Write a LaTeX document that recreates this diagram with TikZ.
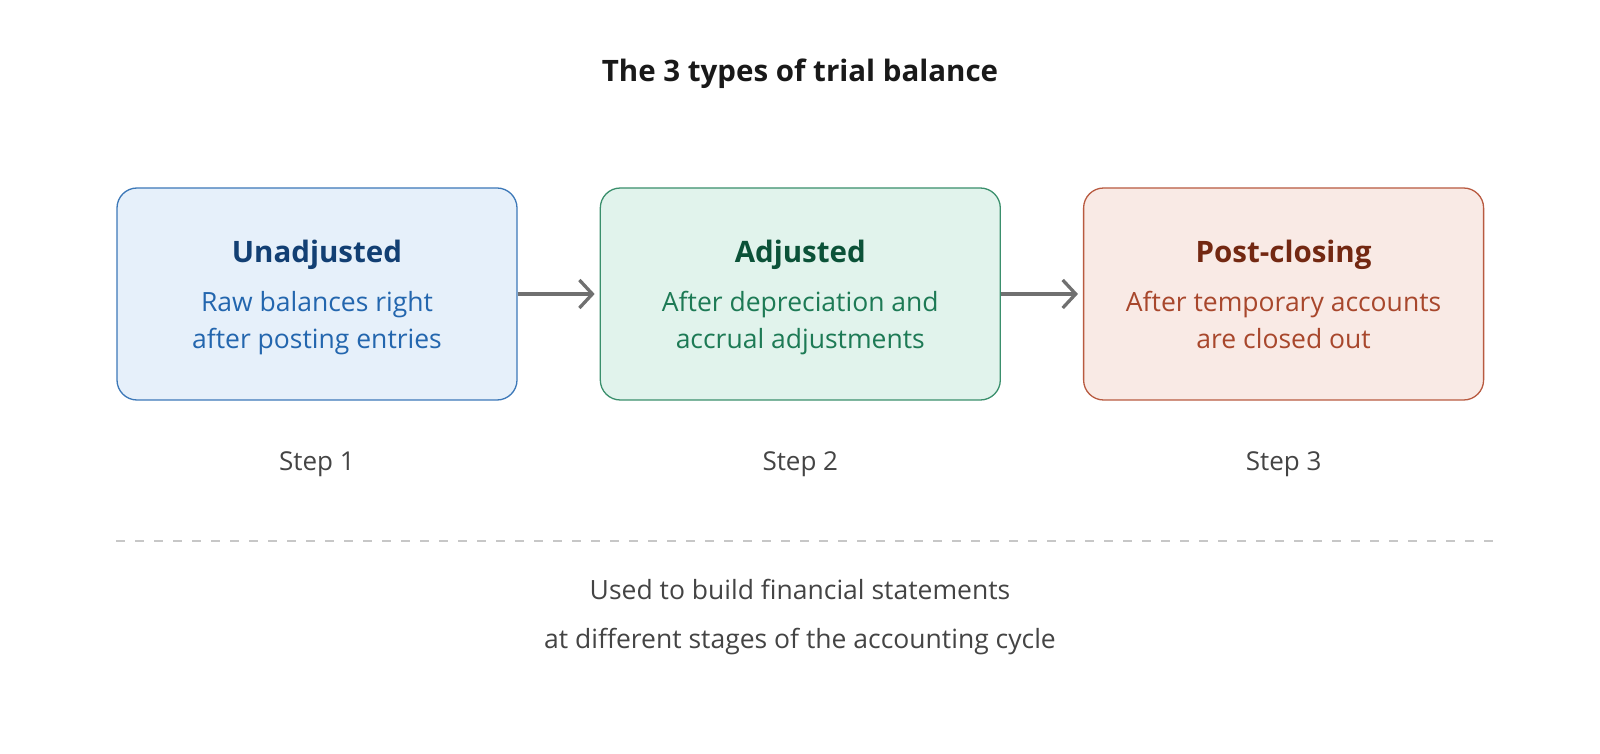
\documentclass[tikz,border=0pt]{standalone}
\usepackage{fontspec}
\setmainfont{Open Sans}
\usepackage{tikz}
\usetikzlibrary{arrows.meta, positioning, calc}
\definecolor{blueline}{HTML}{3C78B8}
\definecolor{bluefill}{HTML}{E6F0FA}
\definecolor{bluehead}{HTML}{123F73}
\definecolor{bluetext}{HTML}{2366AE}
\definecolor{greenline}{HTML}{3A8F6C}
\definecolor{greenfill}{HTML}{E1F3EC}
\definecolor{greenhead}{HTML}{0B5238}
\definecolor{greentext}{HTML}{1D7A55}
\definecolor{redline}{HTML}{B85A40}
\definecolor{redfill}{HTML}{F9EAE5}
\definecolor{redhead}{HTML}{732812}
\definecolor{redtext}{HTML}{A8472C}
\definecolor{arrowgray}{HTML}{707070}
\definecolor{labelgray}{HTML}{444444}
% heading + two lines of text in a stage box
\newcommand{\stagetext}[4]{%
  {\color{#1}\fontsize{29.5}{37}\selectfont\bfseries\rule{0pt}{34pt}#2}\\[12pt]
  #3\\
  #4\strut}

\begin{document}
\begin{tikzpicture}[
        x=1pt, y=1pt,
        node distance=82pt,
        stage/.style={rectangle, draw=#1line, fill=#1fill, line width=1.3pt,
                    rounded corners=20pt, minimum width=400pt, minimum height=212pt,
                    align=center, inner sep=0pt, text=#1text,
                    font=\fontsize{26.5}{37}\selectfont},
        steplbl/.style={font=\fontsize{26}{30}\selectfont, text=labelgray},
        arr/.style={-{Straight Barb[length=13pt, width=28pt, line width=3.3pt]},
                    line width=3.3pt, arrowgray, shorten >=5pt}
      ]
        \useasboundingbox (0,0) rectangle (1600,753);

        \node[font=\fontsize{29.5}{34}\selectfont\bfseries, text=black!90] (title) at (800,679)
              {The 3 types of trial balance};

        \node[stage=blue] (unadj) at (317,459)
              {\stagetext{bluehead}{Unadjusted}{Raw balances right}{after posting entries}};
        \node[stage=green, right=of unadj] (adj)
              {\stagetext{greenhead}{Adjusted}{After depreciation and}{accrual adjustments}};
        \node[stage=red, right=of adj] (post)
              {\stagetext{redhead}{Post-closing}{After temporary accounts}{are closed out}};

        \draw[arr] (unadj) -- (adj);
        \draw[arr] (adj) -- (post);

        % step numbers under the boxes
        \node[steplbl] (s1) at ($(unadj.south)+(0,-64)$) {Step 1};
        \node[steplbl] (s2) at ($(adj.south)+(0,-64)$) {Step 2};
        \node[steplbl] (s3) at ($(post.south)+(0,-64)$) {Step 3};

        \coordinate (sepL) at (unadj.west |- 0,212);
        \coordinate (sepR) at ($(post.east |- 0,212)+(10,0)$);
        \draw[black!22, line width=1.5pt, dash pattern=on 9pt off 10pt] (sepL) -- (sepR);

        \node[steplbl, align=center, font=\fontsize{26.5}{49}\selectfont] (note) at (800,136)
              {Used to build financial statements\\at different stages of the accounting cycle};
      \end{tikzpicture}
\end{document}
